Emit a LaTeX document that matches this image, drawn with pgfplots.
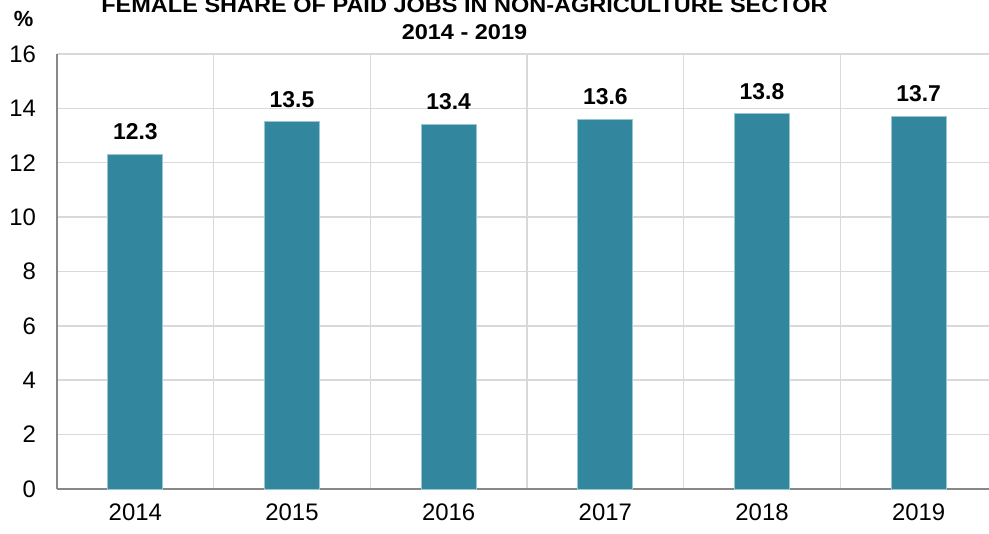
\documentclass[border=0pt]{standalone}
\usepackage{fontspec}
\setmainfont{Liberation Sans}
\usepackage{pgfplots}
\pgfplotsset{compat=1.18}
\definecolor{barc}{RGB}{50,134,157}
\definecolor{baredge}{RGB}{150,200,212}
\definecolor{gridc}{RGB}{217,217,217}
\definecolor{axc}{RGB}{136,136,136}
\begin{document}
\begin{tikzpicture}
\begin{axis}[
  at={(0,0)}, anchor=south west,
  scale only axis,
  width=470bp, height=217.5bp,
  xmin=-0.5, xmax=5.5,
  ymin=0, ymax=16,
  ytick={0,2,...,16},
  xtick={0,1,2,3,4,5},
  xticklabels={2014,2015,2016,2017,2018,2019},
  minor xtick={0.5,1.5,2.5,3.5,4.5},
  major tick length=0pt, minor tick length=0pt,
  ymajorgrids, xminorgrids,
  grid style={draw=gridc, line width=0.75bp},
  minor grid style={draw=gridc, line width=0.75bp},
  axis x line*=bottom, axis y line*=left,
  axis line style={draw=axc, line width=1bp, -},
  tick label style={font=\fontsize{12}{14}\selectfont, text=black},
  /pgf/number format/assume math mode=true,
  yticklabel style={xshift=-7bp},
  xticklabel style={yshift=-4bp},
  ybar, bar width=27.5bp,
  nodes near coords,
  nodes near coords style={font=\bfseries\fontsize{11.5}{13}\selectfont, text=black, yshift=3.7bp,
    /pgf/number format/.cd, fixed, fixed zerofill, precision=1},
  clip=false,
]
\addplot[fill=barc, draw=baredge, line width=0.5bp] coordinates {
  (0,12.3) (1,13.5) (2,13.4) (3,13.6) (4,13.8) (5,13.7)
};
\end{axis}
\node[anchor=base, inner sep=0pt] at (203.75bp,238.4bp) {\scalebox{1}[0.91]{\bfseries\fontsize{11.8}{14}\selectfont FEMALE SHARE OF PAID JOBS IN NON-AGRICULTURE SECTOR}};
\node[anchor=base, inner sep=0pt] at (203.75bp,224.8bp) {\scalebox{1}[0.91]{\bfseries\fontsize{11.8}{14}\selectfont 2014 - 2019}};
\node[anchor=base, inner sep=0pt] at (-16.75bp,231.2bp) {\bfseries\fontsize{11}{13}\selectfont \%};
\pgfresetboundingbox
\useasboundingbox (-28.5bp,-22.5bp) rectangle (466bp,244.5bp);
\end{tikzpicture}
\end{document}
